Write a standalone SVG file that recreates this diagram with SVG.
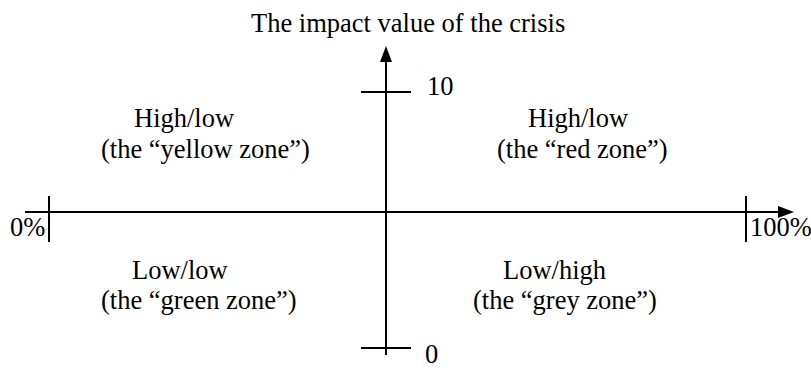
<svg xmlns="http://www.w3.org/2000/svg" width="811" height="370" viewBox="0 0 811 370">
<style>
  .t { font-family: "Liberation Serif", "Times New Roman", serif; font-size: 26.5px; fill: #000; }
  .ax { stroke: #000; stroke-width: 2; fill: none; }
</style>
<defs>
  <marker id="arr" markerUnits="userSpaceOnUse" markerWidth="16" markerHeight="12" refX="2" refY="6" orient="auto">
    <path d="M0,0 L16,6 L0,12 z" fill="#000"/>
  </marker>
</defs>
<rect width="811" height="370" fill="#fff"/>
<g id="connectors">
  <line class="ax" x1="386" y1="355" x2="386" y2="60" marker-end="url(#arr)"/>
  <line class="ax" x1="25" y1="212" x2="780" y2="212" marker-end="url(#arr)"/>
  <line class="ax" x1="361" y1="92" x2="411" y2="92"/>
  <line class="ax" x1="361" y1="348" x2="411" y2="348"/>
  <line class="ax" x1="49" y1="196" x2="49" y2="242"/>
  <line class="ax" x1="746" y1="196" x2="746" y2="242"/>
</g>
<g id="axis-title"><text class="t" x="251" y="32">The impact value of the crisis</text></g>
<g id="label-10"><text class="t" x="427" y="95">10</text></g>
<g id="label-0"><text class="t" x="425" y="363">0</text></g>
<g id="label-0pct"><text class="t" x="10" y="236">0%</text></g>
<g id="label-100pct"><text class="t" x="750" y="236">100%</text></g>
<g id="zone-yellow">
  <text class="t" x="134" y="127">High/low</text>
  <text class="t" x="101" y="158">(the “yellow zone”)</text>
</g>
<g id="zone-red">
  <text class="t" x="528" y="127">High/low</text>
  <text class="t" x="497" y="158">(the “red zone”)</text>
</g>
<g id="zone-green">
  <text class="t" x="132" y="279">Low/low</text>
  <text class="t" x="101" y="309">(the “green zone”)</text>
</g>
<g id="zone-grey">
  <text class="t" x="503" y="279">Low/high</text>
  <text class="t" x="473" y="309">(the “grey zone”)</text>
</g>
</svg>
